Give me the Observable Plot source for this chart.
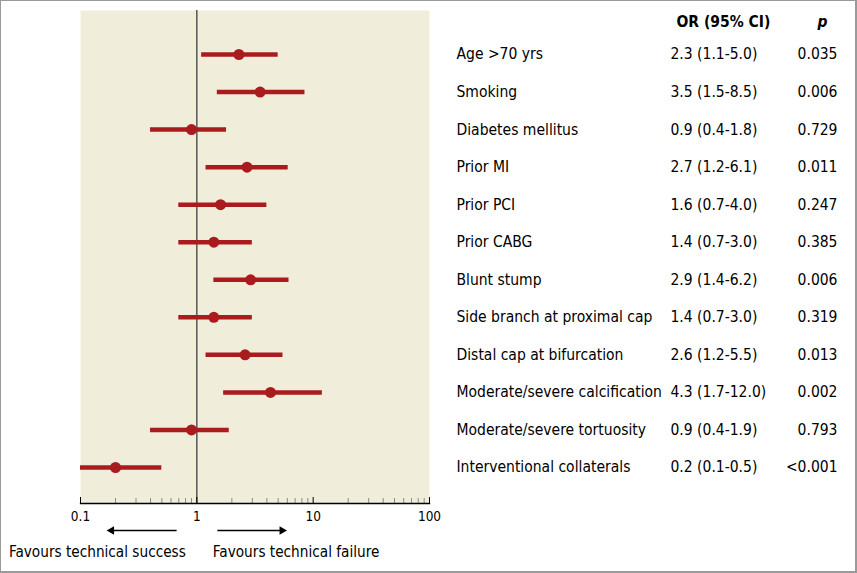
<!DOCTYPE html>
<html><head><meta charset="utf-8">
<script src="https://cdn.jsdelivr.net/npm/d3@7"></script>
<script src="https://cdn.jsdelivr.net/npm/@observablehq/plot@0.6"></script>
<style>
html,body{margin:0;padding:0;background:#fff;}
#chart{width:857px;height:573px;box-sizing:border-box;border:1px solid #9a9a9a;border-right-width:2px;border-bottom-width:2px;overflow:hidden;background:#fff;}
#chart svg{display:block;}
</style></head><body><div id="chart"></div>
<script>
const variables = ["Age >70 yrs","Smoking","Diabetes mellitus","Prior MI","Prior PCI","Prior CABG","Blunt stump","Side branch at proximal cap","Distal cap at bifurcation","Moderate/severe calcification","Moderate/severe tortuosity","Interventional collaterals"];
const oddsRatios = [2.3,3.5,0.9,2.7,1.6,1.4,2.9,1.4,2.6,4.3,0.9,0.2];
const ciLower = [1.1,1.5,0.4,1.2,0.7,0.7,1.4,0.7,1.2,1.7,0.4,0.1];
const ciUpper = [5.0,8.5,1.8,6.1,4.0,3.0,6.2,3.0,5.5,12.0,1.9,0.5];
const orLabels = ["2.3 (1.1-5.0)","3.5 (1.5-8.5)","0.9 (0.4-1.8)","2.7 (1.2-6.1)","1.6 (0.7-4.0)","1.4 (0.7-3.0)","2.9 (1.4-6.2)","1.4 (0.7-3.0)","2.6 (1.2-5.5)","4.3 (1.7-12.0)","0.9 (0.4-1.9)","0.2 (0.1-0.5)"];
const pValues = ["0.035","0.006","0.729","0.011","0.247","0.385","0.006","0.319","0.013","0.002","0.793","<0.001"];
const majorTicks = [0.1,1,10,100];
const minorTicks = [0.2,0.3,0.4,0.5,0.6,0.7,0.8,0.9,2,3,4,5,6,7,8,9,20,30,40,50,60,70,80,90];
const arrowFrom = [0.67,1.5];
const arrowTo = [0.185,5.4];
const captionLeft = "Favours technical success";
const captionRight = "Favours technical failure";

const rows = variables.map((v,i)=>({variable:v, or:oddsRatios[i], lo:ciLower[i], hi:ciUpper[i], orText:orLabels[i], p:pValues[i]}));
const FONT = '"Liberation Sans Narrow","DejaVu Sans Condensed","Arial Narrow",sans-serif';
const RED = "#a91b1d";
const FS = 15.5;
const W = 854;
const xScale = {type:"log", domain:[0.1,100]};
const ML = 79, MR = W - 428;

const main = Plot.plot({
  width: W, height: 522,
  marginLeft: ML, marginRight: MR, marginTop: 9, marginBottom: 20,
  x: {...xScale, axis: null},
  y: {type:"point", domain: variables, range:[53,466], padding:0, round:false, axis:null},
  style: {fontFamily: FONT, color:"#000", background:"transparent"},
  marks: [
    Plot.frame({fill:"#f1eddb"}),
    Plot.ruleX([1], {stroke:"#4a4a4a", strokeWidth:1.4}),
    Plot.ruleY(rows, {y:"variable", x1:"lo", x2:"hi", stroke:RED, strokeWidth:4.5}),
    Plot.dot(rows, {x:"or", y:"variable", r:5.5, fill:RED}),
    Plot.axisX(minorTicks, {tickSize:-5, stroke:"#8a8a8a", text:null}),
    Plot.axisX(majorTicks, {tickSize:-6, tickPadding:14, stroke:"#000", tickFormat:d=>String(d), fontSize:13.5, fontFamily:FONT}),
    Plot.frame({anchor:"bottom", stroke:"#000", strokeWidth:1.3}),
    Plot.text(rows, {y:"variable", text:"variable", frameAnchor:"left", dx:376, textAnchor:"start", fontSize:FS, fontFamily:FONT}),
    Plot.text(rows, {y:"variable", text:"orText", frameAnchor:"left", dx:590, textAnchor:"start", fontSize:FS, fontFamily:FONT}),
    Plot.text(rows, {y:"variable", text:"p", frameAnchor:"left", dx:757, textAnchor:"end", fontSize:FS, fontFamily:FONT}),
    Plot.text(["OR (95% CI)"], {text:d=>d, frameAnchor:"top-left", dx:596, dy:12, lineAnchor:"middle", textAnchor:"start", fontSize:FS, fontWeight:"bold", fontFamily:FONT}),
    Plot.text(["p"], {text:d=>d, frameAnchor:"top-left", dx:742, dy:12, lineAnchor:"middle", textAnchor:"middle", fontSize:FS, fontWeight:"bold", fontStyle:"italic", fontFamily:FONT})
  ]
});

const arrows = arrowFrom.map((f,i)=>({from:f, to:arrowTo[i], rot: arrowTo[i] < f ? -90 : 90}));
const bottom = Plot.plot({
  width: W, height: 48,
  marginLeft: ML, marginRight: MR, marginTop: 0, marginBottom: 0,
  x: {...xScale, axis:null},
  y: {type:"point", domain:["arrow","caption"], range:[7,29], padding:0, round:false, axis:null},
  style: {fontFamily: FONT, color:"#000", background:"transparent"},
  marks: [
    Plot.link(arrows, {x1:"from", x2:"to", y1:()=>"arrow", y2:()=>"arrow", stroke:"#000", strokeWidth:1.3}),
    Plot.dot(arrows, {x:"to", y:()=>"arrow", symbol:"triangle", r:3.2, rotate:"rot", fill:"#000", stroke:"none"}),
    Plot.text([captionLeft], {x:()=>1, y:()=>"caption", text:d=>d, textAnchor:"end", dx:-11, fontSize:15.2, fontFamily:FONT}),
    Plot.text([captionRight], {x:()=>1, y:()=>"caption", text:d=>d, textAnchor:"start", dx:16, fontSize:15.2, fontFamily:FONT})
  ]
});
document.getElementById("chart").append(main, bottom);
</script></body></html>
